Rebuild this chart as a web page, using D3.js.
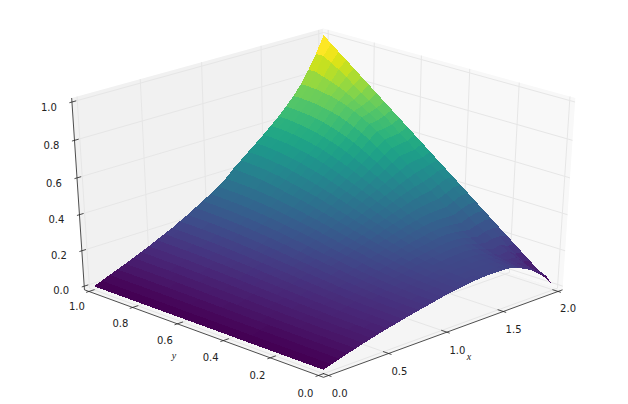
<!DOCTYPE html>
<html><head><meta charset="utf-8">
<style>html,body{margin:0;background:#fff}svg{display:block}text{font-family:"DejaVu Sans";font-size:10px;fill:#222}</style>
<script src="https://cdnjs.cloudflare.com/ajax/libs/d3/7.8.5/d3.min.js"></script></head><body><script>
const xTicks=[0,0.5,1,1.5,2], yTicks=[0,0.2,0.4,0.6,0.8,1], zTicks=[0,0.2,0.4,0.6,0.8,1];
const xVals=[0,.0667,.1333,.2,.2667,.3333,.4,.4667,.5333,.6,.6667,.7333,.8,.8667,.9333,1,1.0667,1.1333,1.2,1.2667,1.3333,1.4,1.4667,1.5333,1.6,1.6667,1.7333,1.8,1.8667,1.9333,2];
const yVals=[0,.0333,.0667,.1,.1333,.1667,.2,.2333,.2667,.3,.3333,.3667,.4,.4333,.4667,.5,.5333,.5667,.6,.6333,.6667,.7,.7333,.7667,.8,.8333,.8667,.9,.9333,.9667,1];
const zTable=[
[0,.014,.028,.041,.053,.066,.078,.089,.100,.110,.120,.130,.139,.148,.157,.166,.174,.181,.187,.192,.195,.197,.197,.196,.191,.177,.155,.136,.115,.07,0],
[0,.014,.028,.041,.053,.066,.078,.089,.100,.110,.120,.130,.139,.148,.157,.166,.174,.181,.187,.192,.195,.197,.197,.196,.191,.177,.155,.136,.115,.07,.033],
[0,.014,.028,.041,.053,.066,.078,.089,.101,.111,.121,.131,.140,.149,.158,.168,.176,.183,.189,.195,.198,.200,.201,.200,.196,.183,.161,.143,.13,.08,.067],
[0,.014,.028,.041,.053,.067,.079,.090,.101,.111,.122,.132,.141,.151,.160,.170,.178,.186,.192,.198,.202,.205,.206,.206,.202,.189,.169,.152,.15,.11,.1],
[0,.014,.028,.041,.054,.067,.079,.091,.102,.112,.123,.133,.143,.153,.162,.172,.181,.189,.196,.203,.207,.211,.212,.213,.210,.199,.180,.164,.17,.14,.133],
[0,.014,.028,.042,.054,.067,.080,.091,.103,.114,.124,.135,.145,.155,.165,.176,.185,.194,.201,.208,.214,.218,.221,.223,.221,.211,.195,.180,.19,.17,.167],
[0,.014,.029,.042,.055,.068,.081,.092,.104,.115,.126,.138,.148,.159,.169,.180,.190,.199,.208,.215,.222,.227,.231,.234,.233,.226,.211,.199,.21,.21,.2],
[0,.014,.029,.042,.055,.069,.082,.094,.106,.117,.128,.140,.151,.162,.173,.185,.195,.205,.215,.224,.231,.238,.243,.247,.248,.243,.231,.221,.235,.24,.233],
[0,.014,.029,.043,.056,.070,.083,.095,.108,.119,.131,.143,.155,.166,.178,.190,.201,.212,.223,.233,.241,.249,.256,.262,.264,.261,.253,.245,.26,.27,.267],
[0,.014,.029,.043,.056,.071,.084,.096,.109,.122,.134,.146,.158,.171,.183,.196,.208,.220,.231,.243,.253,.262,.270,.278,.282,.282,.277,.272,.29,.30,.3],
[0,.014,.029,.043,.057,.071,.085,.098,.111,.124,.136,.150,.162,.175,.188,.202,.215,.228,.241,.253,.265,.276,.286,.295,.302,.304,.302,.301,.32,.335,.333],
[0,.015,.030,.044,.058,.073,.086,.100,.114,.127,.140,.154,.167,.181,.194,.209,.223,.237,.251,.265,.278,.291,.303,.313,.323,.328,.330,.332,.35,.37,.367],
[0,.015,.030,.044,.059,.074,.088,.101,.116,.129,.143,.158,.171,.186,.201,.216,.231,.246,.262,.277,.292,.306,.320,.333,.344,.353,.359,.364,.38,.40,.4],
[0,.015,.030,.045,.059,.075,.089,.103,.118,.132,.146,.162,.176,.192,.207,.223,.239,.255,.273,.289,.306,.322,.338,.353,.367,.379,.389,.397,.415,.435,.433],
[0,.015,.031,.045,.060,.076,.091,.105,.121,.135,.150,.166,.181,.197,.213,.230,.247,.265,.284,.302,.320,.338,.356,.373,.390,.405,.419,.431,.445,.465,.467],
[0,.015,.031,.046,.061,.077,.092,.107,.123,.138,.153,.17,.186,.203,.22,.238,.256,.275,.295,.315,.335,.355,.375,.394,.413,.432,.45,.466,.478,.49,.5],
[0,.015,.031,.047,.062,.078,.093,.109,.125,.141,.156,.174,.191,.209,.227,.246,.265,.285,.306,.328,.350,.372,.394,.415,.436,.459,.481,.501,.51,.515,.533],
[0,.015,.032,.047,.063,.079,.095,.111,.128,.144,.160,.178,.196,.214,.233,.253,.273,.295,.317,.341,.364,.388,.412,.435,.459,.485,.511,.535,.54,.545,.567],
[0,.015,.032,.048,.063,.080,.096,.113,.130,.147,.163,.182,.201,.220,.239,.260,.281,.304,.328,.353,.378,.404,.430,.455,.482,.511,.541,.568,.575,.58,.6],
[0,.015,.032,.048,.064,.081,.098,.114,.132,.149,.166,.186,.205,.225,.246,.267,.289,.313,.339,.365,.392,.419,.447,.475,.503,.536,.570,.600,.605,.61,.633],
[0,.016,.033,.049,.065,.083,.099,.116,.135,.152,.170,.190,.210,.231,.252,.274,.297,.322,.349,.377,.405,.434,.464,.493,.524,.560,.598,.631,.635,.645,.667],
[0,.016,.033,.049,.066,.083,.100,.118,.137,.154,.172,.194,.214,.235,.257,.280,.304,.330,.359,.387,.417,.448,.480,.510,.544,.582,.623,.660,.665,.68,.7],
[0,.016,.033,.049,.066,.084,.101,.119,.138,.157,.175,.197,.217,.240,.262,.286,.311,.338,.367,.397,.429,.461,.494,.526,.562,.601,.644,.684,.695,.71,.733],
[0,.016,.033,.050,.067,.085,.102,.120,.140,.159,.178,.200,.221,.244,.267,.291,.317,.345,.375,.406,.439,.472,.507,.541,.576,.617,.663,.705,.72,.74,.767],
[0,.016,.033,.050,.067,.086,.103,.122,.142,.161,.180,.202,.224,.247,.271,.296,.322,.351,.384,.417,.450,.483,.518,.552,.590,.631,.679,.723,.745,.77,.8],
[0,.016,.034,.050,.068,.087,.104,.123,.143,.162,.182,.205,.227,.251,.275,.300,.327,.356,.393,.426,.459,.493,.527,.562,.600,.643,.690,.738,.77,.80,.833],
[0,.016,.034,.051,.068,.087,.105,.123,.144,.164,.183,.207,.229,.253,.278,.304,.331,.361,.399,.432,.466,.500,.536,.572,.610,.653,.700,.750,.79,.83,.867],
[0,.016,.034,.051,.069,.087,.105,.124,.145,.165,.184,.208,.231,.255,.280,.306,.334,.364,.404,.438,.472,.507,.542,.578,.617,.660,.707,.758,.805,.86,.9],
[0,.016,.034,.051,.069,.088,.106,.125,.145,.165,.185,.209,.232,.257,.282,.308,.336,.367,.407,.441,.477,.512,.546,.583,.622,.664,.712,.764,.82,.885,.933],
[0,.016,.034,.051,.069,.088,.106,.125,.146,.166,.186,.210,.233,.258,.283,.310,.338,.369,.41,.445,.48,.515,.55,.587,.626,.668,.715,.768,.835,.91,.967],
[0,.016,.034,.051,.069,.088,.106,.125,.146,.166,.186,.210,.233,.258,.283,.310,.338,.369,.41,.445,.48,.515,.55,.587,.626,.668,.715,.768,.835,.91,1]];
const W=628,H=404,dist=10,deg=Math.PI/180,elev=30*deg,azim=225*deg;
const mx=2/48,my=1/48,mz=1/48;
const nx=d3.scaleLinear([0,2],[-.5,.5]),ny=d3.scaleLinear([0,1],[-.5,.5]),nz=d3.scaleLinear([0,1],[-.5,.5]);
const px=d3.scaleLinear([0,1],[323.5,323.5+3330]),py=d3.scaleLinear([0,1],[196.4,196.4-2125]);
const cs=Math.cos(elev),sn=Math.sin(elev),ca=Math.cos(azim),sa=Math.sin(azim);
function cam(x,y,z){const A=nx(x),B=ny(y),C=nz(z);
 const xc=-sa*A+ca*B, yc=-sn*ca*A-sn*sa*B+cs*C, d=dist-(cs*ca*A+cs*sa*B+sn*C);
 return {xc,yc,d};}
function P(x,y,z){const c=cam(x,y,z);return [px(c.xc/c.d),py(c.yc/c.d)];}
const svg=d3.select("body").append("svg").attr("width",W).attr("height",H);
const line=d3.line();
const x0=-mx,x1=2+mx,y0=-my,y1=1+my,z0=-mz,z1=1+mz;
const panes=[
 {pts:[[x0,y0,z0],[x1,y0,z0],[x1,y1,z0],[x0,y1,z0]],c:"#f5f5f5"},
 {pts:[[x0,y1,z0],[x1,y1,z0],[x1,y1,z1],[x0,y1,z1]],c:"#f1f1f1"},
 {pts:[[x1,y0,z0],[x1,y1,z0],[x1,y1,z1],[x1,y0,z1]],c:"#f8f8f8"}];
svg.append("g").selectAll("path").data(panes).join("path")
 .attr("d",d=>line(d.pts.map(p=>P(...p)))+"Z").attr("fill",d=>d.c);
const grid=[];
xTicks.forEach(t=>grid.push([[t,y0,z0],[t,y1,z0],[t,y1,z1]]));
yTicks.forEach(t=>grid.push([[x0,t,z0],[x1,t,z0],[x1,t,z1]]));
zTicks.forEach(t=>grid.push([[x0,y1,t],[x1,y1,t],[x1,y0,t]]));
svg.append("g").selectAll("path").data(grid).join("path")
 .attr("d",d=>line(d.map(p=>P(...p)))).attr("fill","none").attr("stroke","#e6e6e6").attr("stroke-width",1);
const axes=[[[x0,y0,z0],[x1,y0,z0]],[[x0,y0,z0],[x0,y1,z0]],[[x0,y1,z0],[x0,y1,z1]]];
svg.append("g").selectAll("path").data(axes).join("path")
 .attr("d",d=>line(d.map(p=>P(...p)))).attr("stroke","#222").attr("stroke-width",.8).attr("fill","none");
const dy=1/12,dx=2/12;
const ticks=[];
xTicks.forEach(t=>ticks.push({a:[t,y0+.28*dy,z0],b:[t,y0-.14*dy,z0]}));
yTicks.forEach(t=>ticks.push({a:[x0+.28*dx,t,z0],b:[x0-.14*dx,t,z0]}));
zTicks.forEach(t=>ticks.push({a:[x0+.2*dx,y1,t],b:[x0-.12*dx,y1,t]}));
svg.append("g").selectAll("path").data(ticks).join("path")
 .attr("d",d=>line([P(...d.a),P(...d.b)])).attr("stroke","#222").attr("stroke-width",.8);
const fmt=d3.format(".1f");
const labels=[];
xTicks.forEach(t=>{const p=P(t,y0,z0);labels.push({s:fmt(t),x:p[0]+11-.5*t,y:p[1]+19-.5*t});});
yTicks.forEach(t=>{const p=P(x0,t,z0);labels.push({s:fmt(t),x:p[0]-13+t,y:p[1]+19-3*t});});
zTicks.forEach(t=>{const p=P(x0,y1,t);labels.push({s:fmt(t),x:p[0]-23,y:p[1]+5+t});});
svg.append("g").selectAll("text").data(labels).join("text").attr("x",d=>d.x).attr("y",d=>d.y).attr("text-anchor","middle").attr("dominant-baseline","middle").text(d=>d.s);
svg.append("text").attr("x",469).attr("y",358).attr("text-anchor","middle").attr("dominant-baseline","middle").style("font-family","Liberation Serif").style("font-style","italic").style("font-size","10px").text("x");
svg.append("text").attr("x",174).attr("y",357).attr("text-anchor","middle").attr("dominant-baseline","middle").style("font-family","Liberation Serif").style("font-style","italic").style("font-size","10px").text("y");
const cells=[];
for(let j=0;j<yVals.length-1;j++)for(let i=0;i<xVals.length-1;i++){
 const q=[[i,j],[i+1,j],[i+1,j+1],[i,j+1]].map(([a,b])=>[xVals[a],yVals[b],zTable[b][a]]);
 cells.push({q,mean:d3.mean(q,p=>p[2]),depth:d3.mean(q,p=>cam(...p).d)});}
cells.sort((a,b)=>d3.descending(a.depth,b.depth));
const color=d3.scaleSequential(d3.interpolateViridis).domain(d3.extent(cells,c=>c.mean));
svg.append("g").style("shape-rendering","crispEdges").selectAll("path").data(cells).join("path")
 .attr("d",d=>line(d.q.map(p=>P(...p)))+"Z").attr("fill",d=>color(d.mean));
</script></body></html>
